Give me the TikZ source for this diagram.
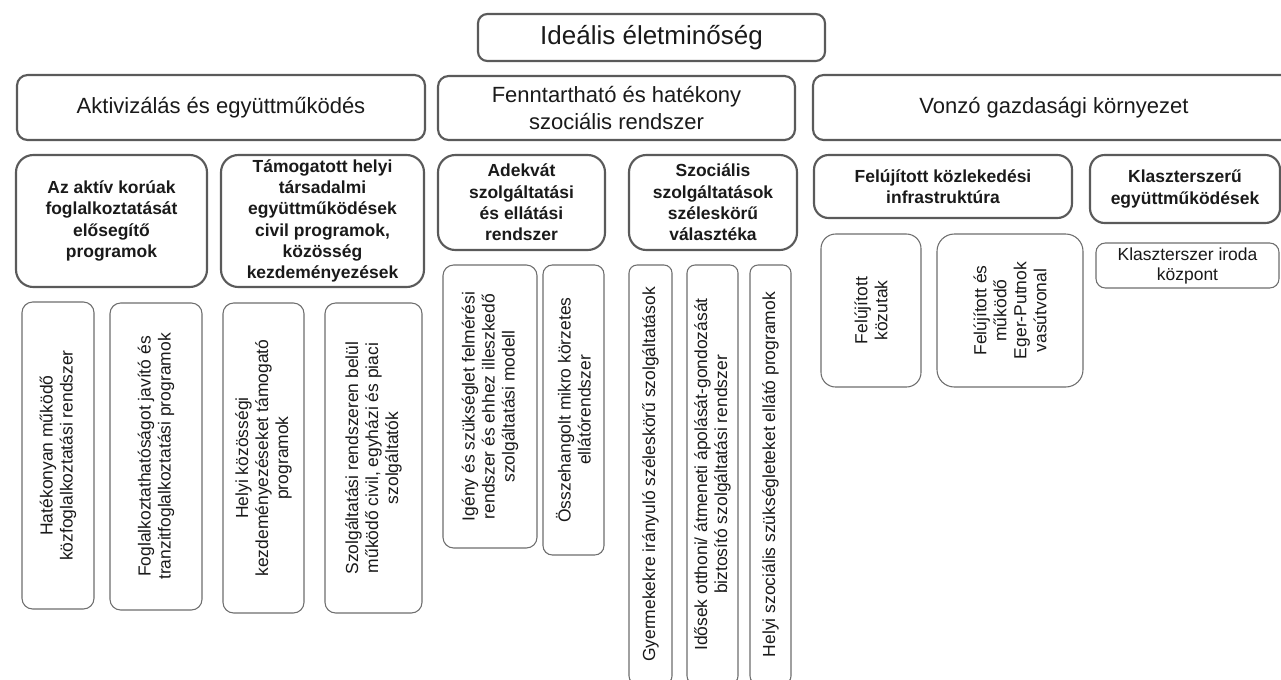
\documentclass[tikz,border=0pt]{standalone}
\usepackage{fontspec}
\setmainfont{Liberation Sans}
\definecolor{bord}{HTML}{5A5A5A}
\definecolor{thin}{HTML}{6E6E6E}
\definecolor{txt}{HTML}{1A1A1A}
\tikzset{
  thickbox/.style={draw=bord, line width=1.6pt, rounded corners=#1, fill=white, inner sep=0pt, outer sep=0pt, align=center, text=txt},
  thickbox/.default=8pt,
  thinbox/.style={draw=thin, line width=0.8pt, rounded corners=#1, fill=white, inner sep=0pt, outer sep=0pt, align=center, text=txt},
  thinbox/.default=7pt,
  titlefont/.style={font=\fontsize{19.5}{23}\selectfont},
  headfont/.style={font=\fontsize{16.5}{20.25}\selectfont},
  boldfont/.style={font=\fontsize{13.1}{16}\selectfont\bfseries},
  smallfont/.style={font=\fontsize{13.1}{15}\selectfont},
}
\newcommand\bx[7]{%
  \pgfmathsetmacro\bw{(#4-#2)*0.75}%
  \pgfmathsetmacro\bh{(#5-#3)*0.75}%
  \node[#6, minimum width=\bw pt, minimum height=\bh pt] (#1) at ({(#2+#4)/2},{(#3+#5)/2}) {#7};}
\newcommand\rbx[7]{%
  \pgfmathsetmacro\bw{(#4-#2)*0.75}%
  \pgfmathsetmacro\bh{(#5-#3)*0.75}%
  \node[#6, rotate=90, minimum width=\bh pt, minimum height=\bw pt] (#1) at ({(#2+#4)/2},{(#3+#5)/2}) {#7};}
\begin{document}
\begin{tikzpicture}[x=0.75pt,y=-0.75pt]
\useasboundingbox (0,0) rectangle (1281,679);
\clip (0,0) rectangle (1281,679);
\fill[white] (0,0) rectangle (1281,679);
% level 0
\bx{T}{478}{14}{825}{61}{thickbox=7pt,titlefont}{Ideális életminőség}
% level 1
\bx{A}{17}{75}{425}{140}{thickbox=8pt,headfont}{Aktivizálás és együttműködés}
\bx{B}{438}{76}{795}{140}{thickbox=8pt,headfont}{Fenntartható és hatékony\\szociális rendszer}
\bx{C}{813}{75}{1295}{140}{thickbox=8pt,headfont}{Vonzó gazdasági környezet}
% level 2
\bx{A1}{16}{155}{207}{287}{thickbox=13pt,boldfont}{Az aktív korúak\\foglalkoztatását\\elősegítő\\programok}
\bx{A2}{221}{155}{424}{287}{thickbox=13pt,boldfont}{Támogatott helyi\\társadalmi\\együttműködések\\civil programok,\\közösség\\kezdeményezések}
\bx{B1}{438}{155}{605}{250}{thickbox=13pt,boldfont}{Adekvát\\szolgáltatási\\és ellátási\\rendszer}
\bx{B2}{629}{155}{797}{250}{thickbox=13pt,boldfont}{Szociális\\szolgáltatások\\széleskörű\\választéka}
\bx{C1}{814}{155}{1072}{218}{thickbox=11pt,boldfont}{Felújított közlekedési\\infrastruktúra}
\bx{C2}{1090}{155}{1280}{223}{thickbox=11pt,boldfont}{Klaszterszerű\\együttműködések}
% level 3
\bx{C2a}{1096}{243}{1279}{288}{thinbox=7pt,smallfont}{Klaszterszer iroda\\központ}
\rbx{a1}{22}{302}{94}{609}{thinbox=8pt,smallfont}{Hatékonyan működő\\közfoglalkoztatási rendszer}
\rbx{a2}{110}{303}{202}{610}{thinbox=8pt,smallfont}{Foglalkoztathatóságot javító és\\tranzitfoglalkoztatási programok}
\rbx{a3}{223}{303}{304}{613}{thinbox=8pt,smallfont}{Helyi közösségi\\kezdeményezéseket támogató\\programok}
\rbx{a4}{325}{303}{422}{613}{thinbox=8pt,smallfont}{Szolgáltatási rendszeren belül\\működő civil, egyházi és piaci\\szolgáltatók}
\rbx{b1}{443}{265}{537}{548}{thinbox=8pt,smallfont}{Igény és szükséglet felmérési\\rendszer és ehhez illeszkedő\\szolgáltatási modell}
\rbx{b2}{543}{265}{604}{555}{thinbox=7pt,smallfont}{Összehangolt mikro körzetes\\ellátórendszer}
\rbx{b3}{629}{265}{672}{684}{thinbox=6pt,smallfont}{Gyermekekre irányuló széleskörű szolgáltatások}
\rbx{b4}{687}{265}{738}{684}{thinbox=6pt,smallfont}{Idősek otthoni/ átmeneti ápolását-gondozását\\biztosító szolgáltatási rendszer}
\rbx{b5}{750}{265}{791}{684}{thinbox=6pt,smallfont}{Helyi szociális szükségleteket ellátó programok}
\rbx{c1}{821}{234}{921}{387}{thinbox=11pt,smallfont}{Felújított\\közutak}
\rbx{c2}{937}{234}{1083}{387}{thinbox=13pt,smallfont}{Felújított és\\működő\\Eger-Putnok\\vasútvonal}
\end{tikzpicture}
\end{document}
